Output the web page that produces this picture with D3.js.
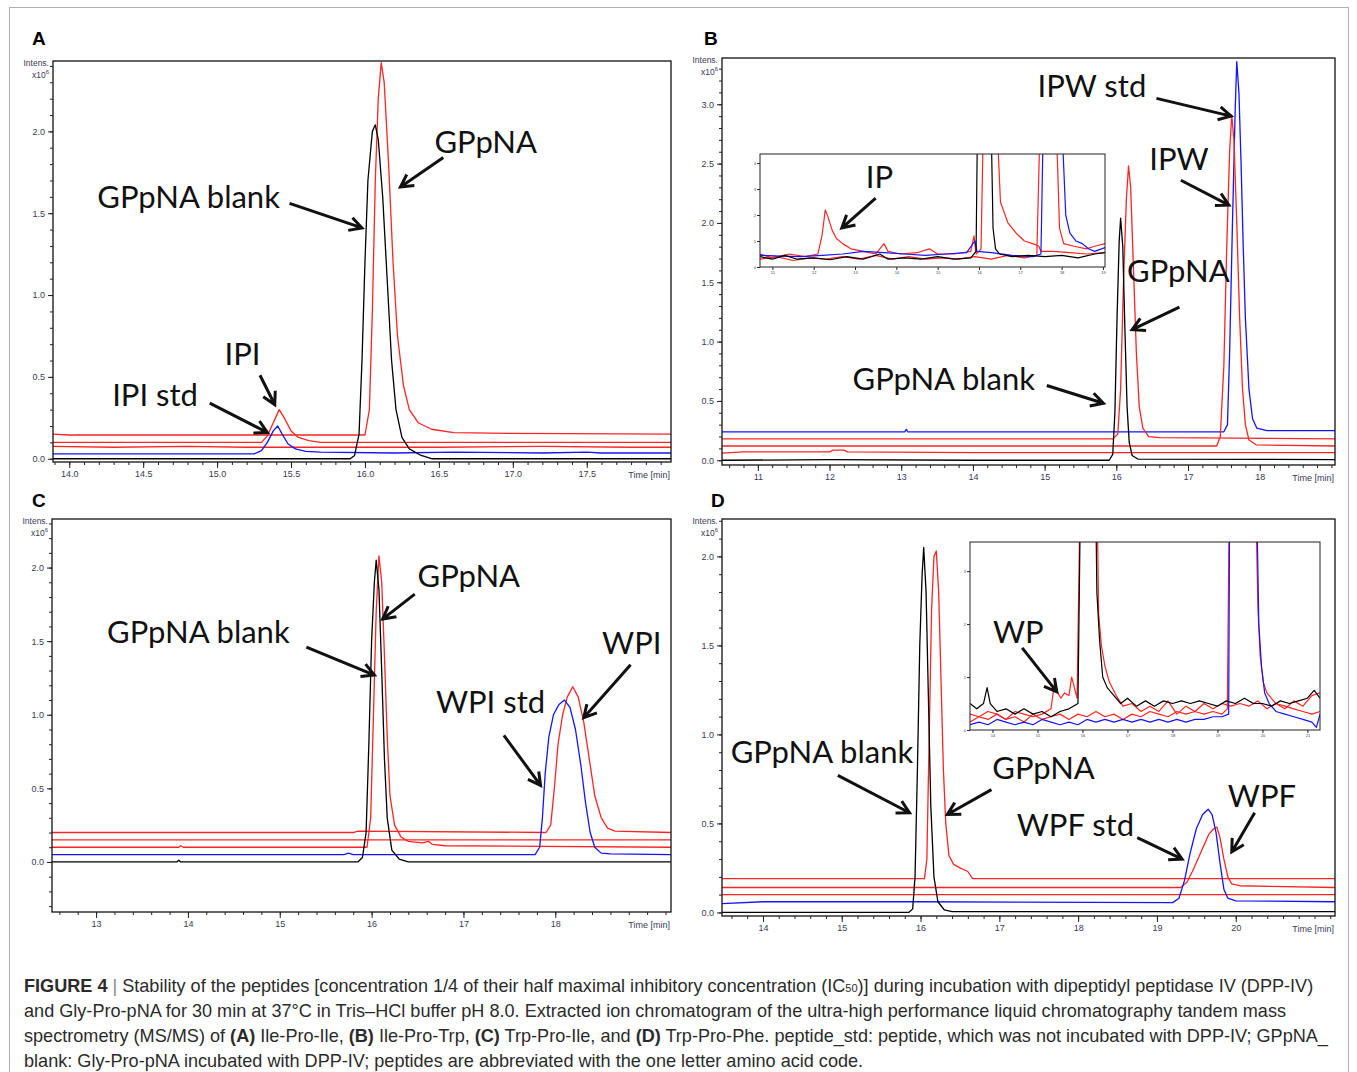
<!DOCTYPE html>
<html><head><meta charset="utf-8">
<script src="https://cdn.jsdelivr.net/npm/d3@7"></script>
<style>
body{margin:0;background:#fff;}
svg text{font-family:"Liberation Sans Narrow","Liberation Sans",Arial,sans-serif;}
</style></head><body>
<script>
// ---------- data (time in min, intensity x10^6) ----------
// panel A : Ile-Pro-Ile
var A_xTicks = [14.0, 14.5, 15.0, 15.5, 16.0, 16.5, 17.0, 17.5];
var A_yTicks = [0.0, 0.5, 1.0, 1.5, 2.0];
var A_blank = [[13.89,0.0],[14.5,0.0],[15.2,0.0],[15.9,0.0],[15.93,0.02],[15.96,0.15],[15.98,0.6],[16.0,1.2],[16.02,1.7],[16.05,2.0],[16.07,2.04],[16.09,1.95],[16.12,1.6],[16.15,1.1],[16.18,0.6],[16.21,0.3],[16.25,0.13],[16.3,0.06],[16.38,0.02],[16.45,0.0],[18.07,0.0]];
var A_std = [[13.89,0.03],[14.2,0.03],[14.6,0.03],[15.0,0.03],[15.25,0.03],[15.3,0.05],[15.34,0.1],[15.38,0.17],[15.41,0.2],[15.44,0.15],[15.48,0.09],[15.53,0.06],[15.6,0.045],[15.7,0.04],[16.2,0.035],[16.6,0.04],[17.2,0.035],[17.5,0.04],[17.6,0.035],[18.07,0.035]];
var A_red1 = [[13.89,0.075],[14.3,0.07],[14.8,0.075],[15.2,0.07],[15.9,0.07],[16.5,0.07],[17.2,0.075],[17.8,0.07],[18.07,0.07]];
var A_red2 = [[13.89,0.1],[15.3,0.1],[15.34,0.14],[15.38,0.22],[15.42,0.3],[15.46,0.24],[15.5,0.17],[15.55,0.13],[15.62,0.11],[15.7,0.1],[18.07,0.1]];
var A_red3 = [[13.89,0.15],[14.0,0.145],[15.0,0.145],[16.0,0.145],[16.03,0.3],[16.05,0.9],[16.07,1.7],[16.09,2.2],[16.11,2.42],[16.13,2.3],[16.16,1.8],[16.19,1.2],[16.22,0.75],[16.26,0.45],[16.3,0.3],[16.36,0.22],[16.45,0.18],[16.6,0.16],[17.0,0.155],[18.07,0.15]];

// panel B : Ile-Pro-Trp
var B_xTicks = [11, 12, 13, 14, 15, 16, 17, 18];
var B_yTicks = [0.0, 0.5, 1.0, 1.5, 2.0, 2.5, 3.0];
var B_blank = [[10.5,0.0],[12,0.005],[14,0.0],[15.9,0.0],[15.95,0.05],[15.98,0.4],[16.01,1.2],[16.04,1.85],[16.06,2.04],[16.09,1.8],[16.12,1.1],[16.15,0.45],[16.18,0.15],[16.22,0.04],[16.3,0.01],[19.05,0.005]];
var B_red1 = [[10.5,0.06],[10.8,0.07],[12.0,0.07],[12.05,0.085],[12.2,0.085],[12.25,0.07],[14,0.065],[16.5,0.065],[19.05,0.065]];
var B_red2 = [[10.5,0.12],[15.5,0.12],[17.4,0.12],[17.45,0.2],[17.5,0.8],[17.54,1.8],[17.58,2.6],[17.61,2.91],[17.64,2.7],[17.68,2.0],[17.72,1.2],[17.76,0.6],[17.8,0.3],[17.85,0.17],[17.95,0.13],[19.05,0.12]];
var B_red3 = [[10.5,0.18],[15.95,0.18],[16.02,0.22],[16.06,0.6],[16.1,1.5],[16.14,2.2],[16.17,2.48],[16.2,2.3],[16.24,1.6],[16.28,0.9],[16.32,0.45],[16.37,0.27],[16.45,0.2],[16.6,0.19],[19.05,0.18]];
var B_std = [[10.5,0.24],[13.05,0.24],[13.07,0.26],[13.09,0.24],[17.5,0.24],[17.55,0.3],[17.58,0.9],[17.62,2.0],[17.66,3.0],[17.68,3.36],[17.71,3.1],[17.74,2.5],[17.77,1.8],[17.8,1.2],[17.85,0.6],[17.9,0.35],[17.96,0.27],[18.1,0.25],[19.05,0.25]];
// inset B (zoomed intensity)
var Bi_blank = [[10.7,0.4],[11.0,0.3],[11.3,0.45],[11.6,0.3],[12.0,0.35],[12.4,0.28],[12.8,0.4],[13.2,0.3],[13.6,0.5],[13.8,0.3],[14.2,0.35],[14.6,0.3],[15.0,0.4],[15.4,0.3],[15.8,0.35],[15.93,0.6],[15.96,5],[16.3,5],[16.34,1.5],[16.4,0.7],[16.5,0.5],[16.8,0.4],[17.2,0.45],[17.6,0.4],[18.0,0.45],[18.4,0.35],[18.8,0.5],[19.05,0.55]];
var Bi_red1 = [[10.7,0.5],[11.0,0.35],[11.4,0.5],[11.8,0.4],[12.1,0.5],[12.2,1.2],[12.28,2.2],[12.35,1.9],[12.45,1.4],[12.55,1.1],[12.7,0.9],[12.9,0.7],[13.2,0.6],[13.5,0.5],[13.7,0.9],[13.8,0.6],[14.1,0.5],[14.5,0.55],[14.8,0.7],[15.0,0.5],[15.4,0.5],[15.8,0.6],[15.88,1.2],[15.93,0.5],[16.0,0.6],[16.05,0.7],[16.1,5],[16.45,5],[16.52,2.5],[16.7,1.7],[16.9,1.3],[17.1,1.0],[17.3,0.9],[17.45,0.8],[17.5,0.6],[17.8,0.6],[18.2,0.55],[18.6,0.5],[19.05,0.55]];
var Bi_red2 = [[10.7,0.3],[11.1,0.4],[11.5,0.25],[11.9,0.35],[12.3,0.3],[12.7,0.4],[13.1,0.3],[13.5,0.45],[13.9,0.3],[14.3,0.4],[14.7,0.3],[15.1,0.35],[15.5,0.3],[15.9,0.4],[16.3,0.3],[16.7,0.45],[17.1,0.35],[17.4,0.45],[17.47,5],[17.88,5],[17.95,1.5],[18.05,0.9],[18.3,0.8],[18.6,0.7],[18.8,0.8],[19.05,0.9]];
var Bi_std = [[10.7,0.45],[11.2,0.42],[11.7,0.4],[12.2,0.45],[12.7,0.5],[13.2,0.6],[13.7,0.55],[14.2,0.5],[14.7,0.45],[15.2,0.5],[15.7,0.55],[15.9,1.0],[15.95,0.6],[16.3,0.55],[16.8,0.45],[17.3,0.4],[17.5,0.5],[17.55,5],[18.02,5],[18.1,2.0],[18.2,1.3],[18.35,1.0],[18.5,0.9],[18.65,0.7],[18.8,0.6],[19.05,0.75]];

// panel C : Trp-Pro-Ile
var C_xTicks = [13, 14, 15, 16, 17, 18];
var C_yTicks = [0.0, 0.5, 1.0, 1.5, 2.0];
var C_blank = [[12.52,0],[13.88,0],[13.9,0.012],[13.92,0],[15.85,0],[15.9,0.03],[15.94,0.2],[15.97,0.8],[16.0,1.5],[16.03,1.9],[16.05,2.05],[16.08,1.85],[16.11,1.3],[16.14,0.7],[16.17,0.3],[16.22,0.08],[16.3,0.02],[16.4,0.0],[19.26,0.0]];
var C_std = [[12.52,0.05],[15.7,0.05],[15.75,0.06],[15.8,0.05],[17.78,0.05],[17.83,0.1],[17.86,0.3],[17.89,0.6],[17.93,0.85],[17.98,1.0],[18.04,1.07],[18.1,1.1],[18.16,1.05],[18.22,0.9],[18.28,0.65],[18.33,0.4],[18.38,0.2],[18.43,0.1],[18.5,0.06],[18.6,0.055],[19.26,0.05]];
var C_red1 = [[12.52,0.1],[13.9,0.1],[13.92,0.11],[13.95,0.1],[15.95,0.1],[15.99,0.3],[16.02,1.0],[16.05,1.7],[16.08,2.08],[16.11,1.9],[16.14,1.4],[16.17,0.85],[16.2,0.45],[16.25,0.25],[16.32,0.17],[16.4,0.14],[16.55,0.13],[16.62,0.14],[16.66,0.12],[16.8,0.11],[19.26,0.1]];
var C_red2 = [[12.52,0.15],[15.0,0.15],[17.0,0.15],[19.26,0.15]];
var C_red3 = [[12.52,0.2],[15.8,0.2],[15.85,0.21],[17.9,0.2],[17.95,0.25],[17.99,0.5],[18.03,0.8],[18.08,1.0],[18.13,1.12],[18.19,1.19],[18.25,1.12],[18.31,0.95],[18.37,0.7],[18.43,0.45],[18.5,0.3],[18.57,0.23],[18.65,0.21],[19.26,0.2]];

// panel D : Trp-Pro-Phe
var D_xTicks = [14, 15, 16, 17, 18, 19, 20];
var D_yTicks = [0.0, 0.5, 1.0, 1.5, 2.0];
var D_blank = [[13.48,0.0],[15.5,0.0],[15.85,0.0],[15.9,0.02],[15.93,0.2],[15.96,0.8],[15.99,1.5],[16.02,1.9],[16.04,2.05],[16.07,1.8],[16.1,1.2],[16.13,0.6],[16.17,0.2],[16.22,0.06],[16.3,0.015],[16.4,0.005],[21.26,0.005]];
var D_std = [[13.48,0.05],[14.0,0.06],[16.0,0.06],[19.2,0.055],[19.28,0.08],[19.35,0.18],[19.42,0.33],[19.5,0.47],[19.58,0.55],[19.65,0.58],[19.7,0.55],[19.75,0.45],[19.8,0.28],[19.85,0.13],[19.9,0.08],[20.0,0.065],[21.26,0.06]];
var D_red1 = [[13.48,0.1],[16.0,0.1],[18.0,0.1],[21.26,0.1]];
var D_red2 = [[13.48,0.14],[19.3,0.14],[19.38,0.17],[19.45,0.23],[19.52,0.3],[19.6,0.38],[19.66,0.44],[19.72,0.47],[19.76,0.48],[19.8,0.42],[19.85,0.3],[19.9,0.2],[19.95,0.16],[20.05,0.15],[21.26,0.14]];
var D_red3 = [[13.48,0.19],[16.05,0.19],[16.08,0.3],[16.11,1.0],[16.14,1.7],[16.17,2.0],[16.2,2.03],[16.23,1.8],[16.26,1.3],[16.29,0.8],[16.32,0.5],[16.36,0.32],[16.42,0.27],[16.5,0.25],[16.6,0.23],[16.66,0.19],[21.26,0.19]];
// inset D (zoomed intensity)
var Di_blank = [[13.5,0.5],[13.65,0.4],[13.8,0.5],[13.88,0.8],[13.95,0.5],[14.1,0.35],[14.3,0.4],[14.5,0.3],[14.7,0.4],[14.9,0.3],[15.1,0.35],[15.3,0.25],[15.5,0.35],[15.7,0.4],[15.9,0.5],[15.95,4],[16.3,4],[16.32,2.6],[16.38,1.7],[16.45,1.0],[16.55,0.8],[16.7,0.65],[16.85,0.5],[17.0,0.6],[17.2,0.45],[17.4,0.55],[17.6,0.45],[17.8,0.55],[18.0,0.5],[18.2,0.55],[18.4,0.5],[18.6,0.55],[18.8,0.5],[19.0,0.45],[19.2,0.55],[19.4,0.5],[19.6,0.6],[19.8,0.5],[20.0,0.5],[20.2,0.45],[20.4,0.55],[20.6,0.5],[20.8,0.55],[21.0,0.6],[21.15,0.75],[21.28,0.6]];
var Di_red1 = [[13.5,0.3],[13.7,0.25],[13.9,0.35],[14.1,0.3],[14.3,0.2],[14.5,0.35],[14.7,0.3],[14.9,0.25],[15.1,0.3],[15.3,0.4],[15.38,0.9],[15.45,0.7],[15.52,0.6],[15.6,0.7],[15.7,0.65],[15.76,1.0],[15.82,0.8],[15.88,0.6],[15.94,4],[16.33,4],[16.36,2.2],[16.42,1.6],[16.5,1.2],[16.6,0.9],[16.75,0.65],[16.9,0.45],[17.1,0.5],[17.3,0.35],[17.5,0.45],[17.7,0.35],[17.9,0.55],[18.1,0.3],[18.3,0.45],[18.5,0.35],[18.7,0.5],[18.9,0.4],[19.1,0.5],[19.3,0.45],[19.5,0.5],[19.7,0.45],[19.9,0.55],[20.1,0.4],[20.3,0.5],[20.5,0.4],[20.7,0.55],[20.9,0.45],[21.1,0.65],[21.28,0.7]];
var Di_red2 = [[13.5,0.15],[13.7,0.25],[13.9,0.2],[14.1,0.3],[14.3,0.2],[14.5,0.25],[14.7,0.15],[14.9,0.3],[15.1,0.2],[15.3,0.25],[15.5,0.3],[15.7,0.2],[15.9,0.3],[16.1,0.25],[16.3,0.35],[16.5,0.25],[16.7,0.3],[16.9,0.2],[17.1,0.3],[17.3,0.25],[17.5,0.35],[17.7,0.3],[17.9,0.25],[18.1,0.35],[18.3,0.3],[18.5,0.35],[18.7,0.3],[18.9,0.35],[19.1,0.3],[19.22,0.4],[19.26,4],[19.86,4],[19.9,2.3],[19.95,1.4],[20.02,0.9],[20.1,0.7],[20.3,0.5],[20.5,0.45],[20.7,0.4],[20.9,0.35],[21.1,0.3],[21.28,0.35]];
var Di_std = [[13.5,0.1],[13.7,0.15],[13.9,0.1],[14.1,0.2],[14.3,0.15],[14.5,0.1],[14.7,0.15],[14.9,0.1],[15.1,0.2],[15.3,0.15],[15.5,0.1],[15.7,0.15],[15.9,0.1],[16.1,0.2],[16.3,0.15],[16.5,0.2],[16.7,0.15],[16.9,0.2],[17.1,0.15],[17.3,0.2],[17.5,0.15],[17.7,0.2],[17.9,0.15],[18.1,0.2],[18.3,0.15],[18.5,0.2],[18.7,0.2],[18.9,0.25],[19.1,0.25],[19.25,0.3],[19.27,4],[19.88,4],[19.92,2.0],[19.98,1.2],[20.05,0.7],[20.15,0.5],[20.3,0.35],[20.5,0.3],[20.7,0.25],[20.9,0.2],[21.1,0.15],[21.2,0.05],[21.28,0.3]];

// annotations: label anchor (t, v) and arrow from -> to, in data units
var A_notes = [
  {text:"GPpNA", t:16.47, v:1.87, from:[16.53,1.84], to:[16.24,1.66]},
  {text:"GPpNA blank", t:14.19, v:1.53, from:[15.49,1.56], to:[15.98,1.41]},
  {text:"IPI", t:15.05, v:0.57, from:[15.29,0.51], to:[15.39,0.33]},
  {text:"IPI std", t:14.29, v:0.32, from:[14.95,0.34], to:[15.34,0.16]}
];
var B_notes = [
  {text:"IPW std", t:14.90, v:3.06, from:[16.56,3.05], to:[17.60,2.90]},
  {text:"IPW", t:16.46, v:2.45, from:[16.90,2.36], to:[17.57,2.15]},
  {text:"GPpNA", t:16.15, v:1.50, from:[16.88,1.29], to:[16.22,1.10]},
  {text:"GPpNA blank", t:12.32, v:0.59, from:[15.03,0.63], to:[15.82,0.48]}
];
var Bi_notes = [{text:"IP", t:13.26, v:3.04, from:[13.50,2.65], to:[12.68,1.5]}];
var C_notes = [
  {text:"GPpNA", t:16.50, v:1.87, from:[16.47,1.82], to:[16.12,1.65]},
  {text:"GPpNA blank", t:13.12, v:1.49, from:[15.29,1.46], to:[16.03,1.27]},
  {text:"WPI", t:18.51, v:1.41, from:[18.82,1.34], to:[18.31,0.98]},
  {text:"WPI std", t:16.70, v:1.01, from:[17.44,0.86], to:[17.84,0.52]}
];
var D_notes = [
  {text:"GPpNA blank", t:13.59, v:0.84, from:[14.95,0.77], to:[15.86,0.56]},
  {text:"GPpNA", t:16.91, v:0.75, from:[16.90,0.69], to:[16.34,0.55]},
  {text:"WPF", t:19.90, v:0.59, from:[20.24,0.56], to:[19.95,0.34]},
  {text:"WPF std", t:17.22, v:0.43, from:[18.75,0.42], to:[19.32,0.30]}
];
var Di_notes = [{text:"WP", t:14.01, v:1.64, from:[14.66,1.55], to:[15.43,0.72]}];

var RED = "#ff2424", BLUE = "#1414ff", BLACK = "#000";

// ---------- page ----------
var w = 1357, h = 1072;
var svg = d3.select("body").append("svg").attr("width", w).attr("height", h);

svg.append("rect")
   .attr("x", 9.5).attr("y", 7.5).attr("width", 1339).attr("height", 1090)
   .attr("fill", "none").attr("stroke", "#b0b0b0");

var panels = [
  {id:"A", lx:32, ly:45, box:[53,671,61,462], xd:[13.89,18.07], yd:[-0.02,2.43], xt:A_xTicks, xf:d3.format(".1f"), xm:0.1, yt:A_yTicks, ym:0.1,
   series:[[A_red3,RED],[A_red2,RED],[A_red1,RED],[A_std,BLUE],[A_blank,BLACK]], notes:A_notes},
  {id:"B", lx:704, ly:45, box:[722,1335,58,465], xd:[10.5,19.05], yd:[-0.04,3.39], xt:B_xTicks, xf:d3.format("d"), xm:0.2, yt:B_yTicks, ym:0.1,
   series:[[B_std,BLUE],[B_red3,RED],[B_red2,RED],[B_red1,RED],[B_blank,BLACK]], notes:B_notes,
   inset:{box:[760,1105,154,267], xd:[10.7,19.05], yd:[0,4.35], xt:[11,12,13,14,15,16,17,18,19], yt:[0,1,2,3,4],
          series:[[Bi_red1,RED],[Bi_red2,RED],[Bi_std,BLUE],[Bi_blank,BLACK]], notes:Bi_notes}},
  {id:"C", lx:32, ly:507, box:[52,671,519,912], xd:[12.52,19.26], yd:[-0.34,2.33], xt:C_xTicks, xf:d3.format("d"), xm:0.2, yt:C_yTicks, ym:0.1,
   series:[[C_red3,RED],[C_red2,RED],[C_red1,RED],[C_std,BLUE],[C_blank,BLACK]], notes:C_notes},
  {id:"D", lx:711, ly:507, box:[722,1335,519,916], xd:[13.48,21.26], yd:[-0.02,2.21], xt:D_xTicks, xf:d3.format("d"), xm:0.2, yt:D_yTicks, ym:0.1,
   series:[[D_red3,RED],[D_red2,RED],[D_red1,RED],[D_std,BLUE],[D_blank,BLACK]], notes:D_notes,
   inset:{box:[970,1320,542,730], xd:[13.5,21.28], yd:[0,3.55], xt:[14,15,16,17,18,19,20,21], yt:[0,1,2,3],
          series:[[Di_red1,RED],[Di_red2,RED],[Di_std,BLUE],[Di_blank,BLACK]], notes:Di_notes}}
];

var clipId = 0;
function plotLines(g, box, x, y, series, sw) {
  var id = "clip" + (clipId++);
  svg.append("clipPath").attr("id", id).append("rect")
     .attr("x", box[0]).attr("y", box[2]).attr("width", box[1]-box[0]).attr("height", box[3]-box[2]);
  var line = d3.line().x(function(d){ return x(d[0]); }).y(function(d){ return y(d[1]); });
  var lg = g.append("g").attr("clip-path", "url(#" + id + ")");
  lg.selectAll("path").data(series).enter().append("path")
    .attr("d", function(s){ return line(s[0]); })
    .attr("fill", "none")
    .attr("stroke", function(s){ return s[1]; })
    .attr("stroke-width", sw)
    .attr("stroke-linejoin", "round");
}

function drawNotes(g, x, y, notes) {
  notes.forEach(function(n) {
    g.append("text").attr("x", x(n.t)).attr("y", y(n.v)).text(n.text)
     .style("font-family", "Lato, 'Open Sans', sans-serif").style("font-size", "31px").attr("fill", "#111");
    var x1 = x(n.from[0]), y1 = y(n.from[1]), x2 = x(n.to[0]), y2 = y(n.to[1]);
    var a = Math.atan2(y2 - y1, x2 - x1), L = 14, sp = 0.5;
    g.append("path")
     .attr("d", "M" + x1 + "," + y1 + "L" + x2 + "," + y2 +
                "M" + (x2 - L*Math.cos(a - sp)) + "," + (y2 - L*Math.sin(a - sp)) + "L" + x2 + "," + y2 +
                "L" + (x2 - L*Math.cos(a + sp)) + "," + (y2 - L*Math.sin(a + sp)))
     .attr("fill", "none").attr("stroke", "#111").attr("stroke-width", 3).attr("stroke-linejoin", "miter");
  });
}

function styleAxis(ax, fs) {
  ax.select(".domain").remove();
  ax.selectAll("line").attr("stroke", "#222");
  ax.selectAll("text").attr("fill", "#3a3a55").style("font-size", fs + "px")
    .style("font-family", "'Liberation Sans Narrow', Arial, sans-serif");
}

panels.forEach(function(p) {
  var g = svg.append("g");
  var b = p.box;
  var x = d3.scaleLinear().domain(p.xd).range([b[0], b[1]]);
  var y = d3.scaleLinear().domain(p.yd).range([b[3], b[2]]);

  g.append("text").attr("x", p.lx).attr("y", p.ly).text(p.id)
   .style("font-family", "'Liberation Sans', Arial, sans-serif").style("font-weight", "bold").style("font-size", "19px");

  plotLines(g, b, x, y, p.series, 1.3);

  // frame
  g.append("rect").attr("x", b[0]).attr("y", b[2]).attr("width", b[1]-b[0]).attr("height", b[3]-b[2])
   .attr("fill", "none").attr("stroke", "#111").attr("stroke-width", 1.3);

  // x axis: major + minor ticks
  var xMinor = d3.range(Math.ceil(p.xd[0]/p.xm)*p.xm, p.xd[1], p.xm);
  styleAxis(g.append("g").attr("transform", "translate(0," + b[3] + ")")
    .call(d3.axisBottom(x).tickValues(xMinor).tickSize(3).tickSizeOuter(0).tickFormat("")), 9);
  styleAxis(g.append("g").attr("transform", "translate(0," + b[3] + ")")
    .call(d3.axisBottom(x).tickValues(p.xt).tickSize(6).tickSizeOuter(0).tickFormat(p.xf)), 9);
  g.append("text").attr("x", b[1] - 1).attr("y", b[3] + 16).attr("text-anchor", "end")
   .text("Time [min]").attr("fill", "#3a3a55").style("font-size", "9px");

  // y axis
  var yMinor = d3.range(Math.ceil(p.yd[0]/p.ym)*p.ym, p.yd[1], p.ym);
  styleAxis(g.append("g").attr("transform", "translate(" + b[0] + ",0)")
    .call(d3.axisLeft(y).tickValues(yMinor).tickSize(3).tickSizeOuter(0).tickFormat("")), 9);
  styleAxis(g.append("g").attr("transform", "translate(" + b[0] + ",0)")
    .call(d3.axisLeft(y).tickValues(p.yt).tickSize(5).tickSizeOuter(0).tickFormat(d3.format(".1f"))), 9);
  var it = g.append("text").attr("x", b[0] - 4).attr("y", b[2] + 5).attr("text-anchor", "end")
            .attr("fill", "#3a3a55").style("font-size", "8.5px");
  it.append("tspan").attr("x", b[0] - 4).text("Intens.");
  var t2 = it.append("tspan").attr("x", b[0] - 4).attr("dy", 12).text("x10");
  t2.append("tspan").attr("dy", -4).style("font-size", "6px").text("6");

  // inset
  if (p.inset) {
    var q = p.inset, ib = q.box;
    var xi = d3.scaleLinear().domain(q.xd).range([ib[0], ib[1]]);
    var yi = d3.scaleLinear().domain(q.yd).range([ib[3], ib[2]]);
    g.append("rect").attr("x", ib[0]).attr("y", ib[2]).attr("width", ib[1]-ib[0]).attr("height", ib[3]-ib[2])
     .attr("fill", "#fff");
    plotLines(g, ib, xi, yi, q.series, 1.2);
    g.append("rect").attr("x", ib[0]).attr("y", ib[2]).attr("width", ib[1]-ib[0]).attr("height", ib[3]-ib[2])
     .attr("fill", "none").attr("stroke", "#222").attr("stroke-width", 1);
    styleAxis(g.append("g").attr("transform", "translate(0," + ib[3] + ")")
      .call(d3.axisBottom(xi).tickValues(q.xt).tickSize(3).tickSizeOuter(0).tickPadding(1).tickFormat(d3.format("d"))), 4);
    styleAxis(g.append("g").attr("transform", "translate(" + ib[0] + ",0)")
      .call(d3.axisLeft(yi).tickValues(q.yt).tickSize(3).tickSizeOuter(0).tickPadding(1).tickFormat(d3.format("d"))), 4);
    drawNotes(g, xi, yi, q.notes);
  }

  drawNotes(g, x, y, p.notes);
});

// ---------- caption ----------
var cap = svg.append("g").attr("fill", "#2b2b2b")
             .style("font-family", "'Liberation Sans Narrow', Arial, sans-serif").style("font-size", "18.1px");
var capLines = [
  [["FIGURE 4", 1], [" ", 0], ["|", 2], [" Stability of the peptides [concentration 1/4 of their half maximal inhibitory concentration (IC", 0], ["50", 3], [")] during incubation with dipeptidyl peptidase IV (DPP-IV)", 0]],
  [["and Gly-Pro-pNA for 30 min at 37°C in Tris–HCl buffer pH 8.0. Extracted ion chromatogram of the ultra-high performance liquid chromatography tandem mass", 0]],
  [["spectrometry (MS/MS) of ", 0], ["(A)", 1], [" Ile-Pro-Ile, ", 0], ["(B)", 1], [" Ile-Pro-Trp, ", 0], ["(C)", 1], [" Trp-Pro-Ile, and ", 0], ["(D)", 1], [" Trp-Pro-Phe. peptide_std: peptide, which was not incubated with DPP-IV; GPpNA_", 0]],
  [["blank: Gly-Pro-pNA incubated with DPP-IV; peptides are abbreviated with the one letter amino acid code.", 0]]
];
capLines.forEach(function(ln, i) {
  var t = cap.append("text").attr("x", 24).attr("y", 992 + i*25);
  ln.forEach(function(s) {
    var sp = t.append("tspan").text(s[0]);
    if (s[1] === 1) sp.style("font-weight", "bold");
    if (s[1] === 2) sp.attr("fill", "#888");
    if (s[1] === 3) sp.style("font-size", "11px");
  });
});
</script>
</body></html>
